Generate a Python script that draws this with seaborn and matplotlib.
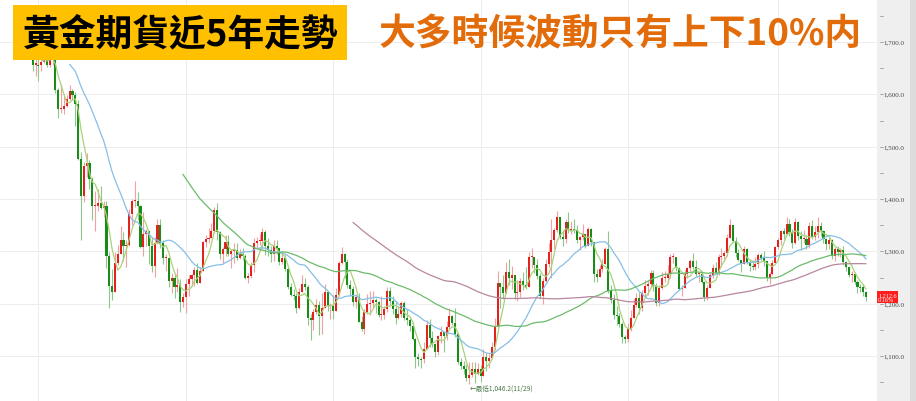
import numpy as np
import pandas as pd
import matplotlib
matplotlib.use("Agg")
import matplotlib.pyplot as plt
import matplotlib.transforms as mtransforms
from matplotlib.patches import Rectangle
import seaborn as sns

# ---------------- data (weekly gold futures) ----------------
start_week = "2012-11-05"
first_open = 1676

closes = [
    # 2012
    1731, 1714, 1750, 1711, 1705,
    1696, 1657, 1657, 1656,
    # 2013
    1662, 1687, 1657, 1667, 1667, 1609, 1572, 1572, 1578, 1592, 1607, 1598,
    1581, 1476, 1405, 1463, 1469, 1438, 1386, 1386, 1392, 1383, 1387, 1292, 1234,
    1223, 1277, 1295, 1322, 1310, 1312, 1371, 1396, 1396, 1386, 1308, 1333, 1338, 1310,
    1272, 1316, 1351, 1315, 1288, 1288, 1244, 1250, 1231, 1236, 1204, 1213, 1238,
    # 2014
    1247, 1254, 1264, 1240, 1263, 1318, 1323, 1326, 1338, 1379, 1336, 1294, 1304,
    1318, 1294, 1301, 1302, 1288, 1294, 1292, 1250, 1253, 1274, 1316, 1320, 1320,
    1337, 1310, 1303, 1294, 1310, 1306, 1280, 1287, 1267, 1231, 1216, 1214, 1192,
    1222, 1238, 1231, 1172, 1169, 1185, 1197, 1176, 1191, 1222, 1195, 1195, 1186,
    # 2015
    1217, 1277, 1295, 1279, 1235, 1228, 1204, 1213, 1165, 1152, 1184, 1199, 1201,
    1207, 1204, 1178, 1179, 1189, 1225, 1205, 1189, 1172, 1180, 1201, 1173, 1168,
    1157, 1132, 1099, 1095, 1094, 1113, 1159, 1134, 1122, 1108, 1138, 1145, 1138,
    1156, 1177, 1163, 1142, 1088, 1081, 1076, 1057, 1063, 1075, 1065, 1076, 1061,
    # 2016
    1098, 1091, 1097, 1117, 1158, 1239, 1231, 1221, 1260, 1250, 1254, 1221, 1222,
    1243, 1235, 1232, 1290, 1290, 1273, 1253, 1215, 1243, 1275, 1298, 1322, 1340,
    1366, 1327, 1323, 1357, 1340, 1343, 1341, 1322, 1327, 1334, 1310, 1342, 1317,
    1257, 1251, 1267, 1276, 1304, 1224, 1207, 1178, 1177, 1161, 1137, 1133, 1152,
    # 2017
    1173, 1197, 1210, 1191, 1220, 1234, 1238, 1258, 1234, 1201, 1229, 1249, 1249,
    1257, 1289, 1289, 1268, 1228, 1229, 1256, 1269, 1282, 1271, 1256, 1257, 1242,
    1213, 1229, 1255, 1269, 1258, 1290, 1291, 1297, 1325, 1351, 1320, 1297, 1284,
    1276, 1305, 1280, 1272, 1270, 1275, 1293, 1288, 1281, 1249, 1257, 1278, 1309,
    # 2018
    1322, 1338, 1333, 1352, 1337, 1316, 1356, 1330, 1323, 1324, 1312, 1349, 1327,
    1336, 1348, 1338, 1323, 1314, 1321, 1291, 1304, 1299, 1302, 1279, 1270, 1254,
    1256, 1242, 1232, 1231, 1223, 1212.6,
]

highs = [
    1737, 1737, 1754, 1755, 1722,
    1725, 1700, 1669, 1694,
    1680, 1695, 1697, 1682, 1684, 1672, 1613, 1620, 1600, 1599, 1617, 1611,
    1605, 1590, 1490, 1470, 1488, 1475, 1443, 1416, 1420, 1424, 1397, 1396, 1298,
    1267, 1298, 1313, 1348, 1337, 1322, 1380, 1400, 1434, 1414, 1389, 1375, 1343, 1337,
    1325, 1327, 1362, 1362, 1322, 1294, 1290, 1259, 1256, 1268, 1248, 1220, 1247,
    1255, 1256, 1270, 1278, 1271, 1320, 1332, 1345, 1355, 1385, 1392, 1339, 1308,
    1331, 1331, 1305, 1315, 1316, 1305, 1307, 1295, 1259, 1279, 1325, 1328, 1333,
    1345, 1340, 1325, 1311, 1322, 1322, 1302, 1298, 1293, 1270, 1240, 1228, 1221,
    1230, 1255, 1249, 1236, 1180, 1190, 1208, 1205, 1221, 1238, 1225, 1201, 1216,
    1229, 1281, 1308, 1297, 1286, 1245, 1234, 1219, 1220, 1176, 1190, 1219, 1224,
    1224, 1210, 1205, 1215, 1196, 1232, 1232, 1215, 1206, 1195, 1206, 1206, 1190,
    1173, 1165, 1134, 1105, 1099, 1126, 1168, 1170, 1147, 1125, 1141, 1157, 1148,
    1167, 1191, 1178, 1191, 1143, 1096, 1091, 1084, 1088, 1088, 1089, 1086, 1082,
    1113, 1106, 1104, 1127, 1173, 1263, 1239, 1254, 1280, 1285, 1272, 1254, 1245,
    1250, 1261, 1270, 1299, 1306, 1289, 1286, 1258, 1250, 1285, 1315, 1362, 1345,
    1377, 1357, 1340, 1361, 1375, 1358, 1362, 1350, 1330, 1352, 1331, 1346, 1345,
    1318, 1267, 1274, 1286, 1309, 1338, 1236, 1218, 1195, 1183, 1165, 1141, 1163,
    1187, 1208, 1220, 1222, 1227, 1246, 1246, 1264, 1264, 1240, 1236, 1260, 1262,
    1274, 1294, 1297, 1290, 1271, 1236, 1264, 1271, 1285, 1297, 1283, 1260, 1263,
    1243, 1236, 1260, 1275, 1279, 1294, 1307, 1300, 1333, 1362, 1346, 1327, 1305,
    1282, 1310, 1306, 1286, 1284, 1290, 1297, 1297, 1300, 1280, 1260, 1283, 1310,
    1326, 1341, 1345, 1366, 1362, 1343, 1364, 1358, 1338, 1341, 1329, 1356, 1359,
    1349, 1365, 1357, 1341, 1326, 1328, 1323, 1309, 1310, 1307, 1311, 1281, 1270,
    1263, 1260, 1245, 1237, 1237, 1224,
]

lows = [
    1673, 1705, 1714, 1705, 1684,
    1690, 1645, 1636, 1626,
    1645, 1660, 1652, 1652, 1657, 1603, 1555, 1565, 1563, 1575, 1590, 1590,
    1540, 1474, 1321, 1395, 1442, 1420, 1359, 1338, 1377, 1380, 1366, 1268, 1192,
    1207, 1233, 1274, 1294, 1282, 1270, 1310, 1351, 1384, 1360, 1306, 1292, 1311, 1275,
    1261, 1251, 1314, 1307, 1276, 1263, 1231, 1221, 1211, 1222, 1185, 1194, 1182,
    1215, 1234, 1234, 1237, 1239, 1262, 1309, 1316, 1325, 1335, 1321, 1286, 1277,
    1291, 1291, 1268, 1277, 1283, 1286, 1284, 1247, 1240, 1250, 1260, 1308, 1313,
    1305, 1293, 1291, 1280, 1281, 1294, 1273, 1276, 1262, 1228, 1214, 1207, 1183,
    1190, 1223, 1226, 1160, 1131, 1150, 1180, 1141, 1142, 1191, 1186, 1170, 1170,
    1190, 1215, 1275, 1250, 1230, 1215, 1196, 1191, 1165, 1147, 1142, 1180, 1178,
    1193, 1183, 1174, 1169, 1170, 1184, 1198, 1180, 1162, 1170, 1174, 1169, 1160,
    1148, 1130, 1077, 1080, 1077, 1087, 1115, 1117, 1118, 1098, 1102, 1125, 1108,
    1130, 1151, 1160, 1137, 1085, 1075, 1065, 1053, 1046.2, 1060, 1049, 1064, 1051,
    1071, 1071, 1078, 1095, 1111, 1155, 1192, 1209, 1223, 1236, 1228, 1208, 1206,
    1213, 1226, 1228, 1233, 1268, 1259, 1248, 1208, 1200, 1242, 1270, 1250, 1305,
    1337, 1324, 1310, 1315, 1335, 1334, 1335, 1316, 1302, 1322, 1306, 1314, 1310,
    1241, 1242, 1256, 1261, 1275, 1221, 1201, 1171, 1160, 1156, 1124, 1124, 1126,
    1147, 1176, 1194, 1180, 1186, 1214, 1216, 1231, 1224, 1195, 1195, 1228, 1241,
    1240, 1250, 1277, 1263, 1226, 1214, 1229, 1249, 1262, 1266, 1252, 1242, 1239,
    1206, 1207, 1230, 1250, 1256, 1255, 1270, 1283, 1292, 1328, 1317, 1290, 1281,
    1261, 1277, 1276, 1263, 1264, 1265, 1269, 1284, 1272, 1244, 1237, 1254, 1277,
    1304, 1312, 1324, 1331, 1330, 1307, 1314, 1322, 1303, 1316, 1305, 1306, 1323,
    1321, 1326, 1330, 1316, 1302, 1305, 1285, 1282, 1292, 1290, 1274, 1263, 1251,
    1242, 1238, 1220, 1222, 1214, 1205,
]

ma_windows = [5, 20, 60, 120]
ma_colors = ["#a9d27a", "#86bfe8", "#6cbb6c", "#b8869f"]
price_ticks = [1100, 1200, 1300, 1400, 1500, 1600, 1700]
title_left = "黃金期貨近5年走勢"
title_right = "大多時候波動只有上下10%内"
low_note = "←最低1,046.2(11/29)"
last_change = "0.16%"

# ---------------- build table ----------------
n = len(closes)
df = pd.DataFrame({"close": closes, "high": highs[:n], "low": lows[:n]})
df["date"] = pd.date_range(start_week, periods=n, freq="W-MON")
df["idx"] = np.arange(n)
df["open"] = df["close"].shift(1).fillna(first_open)
df["high"] = np.maximum(df["high"], np.maximum(df["open"], df["close"]))
df["low"] = np.minimum(df["low"], np.minimum(df["open"], df["close"]))
up = df["close"] >= df["open"]

W, H = 916, 402
fig = plt.figure(figsize=(W / 100, H / 100), dpi=100)
sns.set_style("white")
plt.rcParams["font.family"] = ["Noto Sans CJK TC", "DejaVu Sans"]

plot_right = 877
ax = fig.add_axes([0, 0, plot_right / W, 1])
px_per_week = 2.834
first_px = 866 - (n - 1) * px_per_week
ax.set_xlim(-first_px / px_per_week, (plot_right - first_px) / px_per_week)
ylo, yhi = 1014, 1782.2
ax.set_ylim(ylo, yhi)

# grid: every 100 and at the first week of each year
for v in price_ticks:
    ax.axhline(v, color="#ececec", lw=0.7, zorder=0)
d = df["date"]
year_start = df["idx"][((d + pd.Timedelta(days=6)).dt.year != d.dt.year) |
                       ((d.dt.month == 1) & (d.dt.day == 1))]
for xi in year_start:
    ax.axvline(xi, color="#ececec", lw=0.7, zorder=0)

# wicks
wick_col = np.where(up, "#f2a0a0", "#8cc88c")
ax.vlines(df["idx"], df["low"], df["high"], colors=wick_col, lw=0.8, zorder=2)
# bodies
body = (df["close"] - df["open"]).to_numpy(dtype=float)
body = np.where(np.abs(body) < 2, np.where(body >= 0, 2, -2), body)
body_col = np.where(up, "#e3211f", "#178c17")
ax.bar(df["idx"], body, bottom=df["open"], width=0.72, color=body_col,
       edgecolor="none", zorder=3)

# moving averages
for w, c in zip(ma_windows, ma_colors):
    df[f"ma{w}"] = df["close"].rolling(w).mean()
    sns.lineplot(data=df, x="idx", y=f"ma{w}", color=c, lw=0.9, ax=ax,
                 zorder=4, legend=False)

# lowest point note
imin = int(df["low"].idxmin())
ax.annotate(low_note, xy=(imin, df["low"][imin]), xytext=(0.5, -2.5),
            textcoords="offset points", ha="left", va="center",
            fontsize=4.8, color="#4a7a4a", zorder=6)

ax.set_xticks([]); ax.set_yticks([])
ax.set_xlabel(""); ax.set_ylabel("")
for s in ax.spines.values():
    s.set_visible(False)

# right price strip
ax2 = fig.add_axes([plot_right / W, 0, 33 / W, 1])
ax2.set_facecolor("#efefef")
ax2.set_ylim(ylo, yhi)
ax2.set_xlim(0, 1)
ax2.set_xticks([]); ax2.set_yticks([])
for s in ax2.spines.values():
    s.set_visible(False)
tr = mtransforms.blended_transform_factory(ax2.transAxes, ax2.transData)
for v in range(1050, 1751, 50):
    ax2.plot([0.09, 0.19], [v, v], color="#9a9a9a", lw=0.6, transform=tr)
for v in price_ticks:
    ax2.text(0.21, v, f"{v:,.1f}", transform=tr, fontsize=5, va="center",
             ha="left", color="#444444", family=["Liberation Serif", "DejaVu Serif"])
ax2.text(0.03, df["close"].iloc[-1], f"{df['close'].iloc[-1]:,.1f}\n{last_change}",
         transform=tr, fontsize=4.4, va="center", ha="left", color="white",
         linespacing=1.0, family=["Liberation Serif", "DejaVu Serif"],
         bbox=dict(facecolor="#ff1c1c", edgecolor="none", pad=1.0), zorder=5)

ax3 = fig.add_axes([910 / W, 0, 6 / W, 1])
ax3.set_facecolor("#dcdcdc")
ax3.set_xticks([]); ax3.set_yticks([])
for s in ax3.spines.values():
    s.set_visible(False)

# titles
fig.patches.append(Rectangle((13 / W, 1 - 61 / H), (347 - 13) / W, (61 - 6) / H,
                             transform=fig.transFigure, facecolor="#ffc000",
                             edgecolor="none", zorder=5))
fig.text(181 / W, 1 - 35 / H, title_left, fontsize=26.5, fontweight="bold",
         color="black", ha="center", va="center", zorder=6)
fig.text(620 / W, 1 - 35 / H, title_right, fontsize=26.5, fontweight="bold",
         color="#e36c0a", ha="center", va="center", zorder=6)

fig.savefig("out.png", dpi=100)
